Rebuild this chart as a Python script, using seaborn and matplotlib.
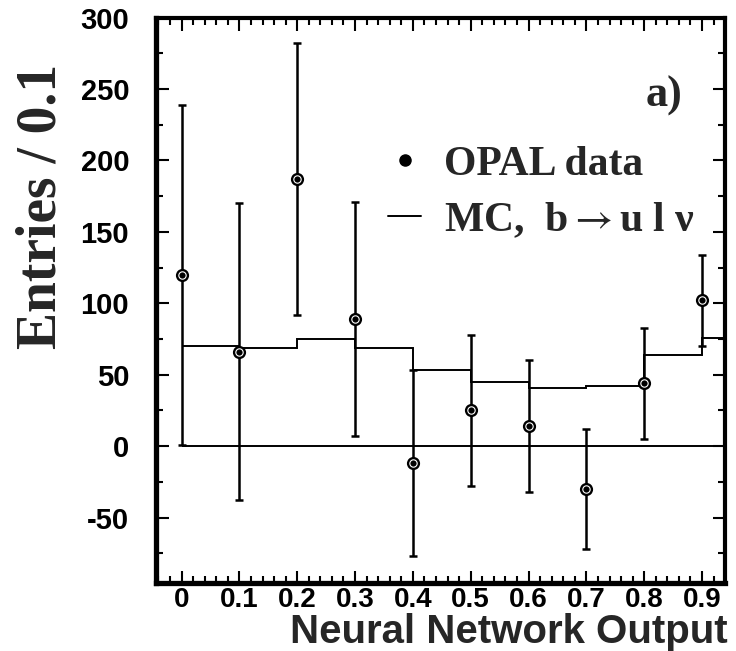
import numpy as np
import matplotlib
matplotlib.use("Agg")
import matplotlib.pyplot as plt
import seaborn as sns
import pandas as pd
from matplotlib.lines import Line2D
from matplotlib.ticker import MultipleLocator

# OPAL data points (neural network output bins, width 0.1)
nn_output = [0.0, 0.1, 0.2, 0.3, 0.4, 0.5, 0.6, 0.7, 0.8, 0.9]
entries = [120, 66, 187, 89, -12, 25, 14, -30, 44, 102]
errors = [119, 104, 95, 82, 65, 53, 46, 42, 39, 32]

# MC b -> u l nu histogram
mc_edges = [0.0, 0.1, 0.2, 0.3, 0.4, 0.5, 0.6, 0.7, 0.8, 0.9, 1.0]
mc_values = [70, 69, 75, 69, 53, 45, 41, 42, 64, 76]

x_ticks = [0, 0.1, 0.2, 0.3, 0.4, 0.5, 0.6, 0.7, 0.8, 0.9]
x_ticklabels = ["0", "0.1", "0.2", "0.3", "0.4", "0.5", "0.6", "0.7", "0.8", "0.9"]
y_ticks = [-50, 0, 50, 100, 150, 200, 250, 300]

sns.set_style("ticks")
plt.rcParams['font.family'] = ['Liberation Sans', 'DejaVu Sans']
plt.rcParams['axes.unicode_minus'] = False
plt.rcParams['mathtext.fontset'] = 'stix'
serif = ['Liberation Serif', 'DejaVu Serif']

df = pd.DataFrame({"x": nn_output, "y": entries, "err": errors})

fig = plt.figure(figsize=(7.36, 6.51), dpi=100)
ax = fig.add_axes([0.2113, 0.104, 0.774, 0.869])

# MC histogram and zero line
ax.stairs(mc_values, mc_edges, color="black", linewidth=1.4, baseline=None)
ax.hlines(0, mc_edges[0], mc_edges[-1], color="black", linewidth=1.4)

# data with error bars
ax.errorbar(df["x"], df["y"], yerr=df["err"], fmt="none", ecolor="black",
            elinewidth=1.8, capsize=3, capthick=1.8, zorder=3)
sns.scatterplot(data=df, x="x", y="y", ax=ax, color="black", s=90,
                edgecolor="black", linewidth=0, zorder=4, legend=False)
sns.scatterplot(data=df, x="x", y="y", ax=ax, color="black", s=28,
                edgecolor="white", linewidth=0.8, zorder=5, legend=False)

ax.set_xlim(-0.045, 0.94)
ax.set_ylim(-96, 300)
ax.set_xticks(x_ticks)
ax.set_xticklabels(x_ticklabels)
ax.set_yticks(y_ticks)
ax.xaxis.set_minor_locator(MultipleLocator(0.02))
ax.yaxis.set_minor_locator(MultipleLocator(25))

ax.tick_params(which="both", direction="in", top=True, right=True,
               colors="black", width=1.5)
ax.tick_params(which="major", length=9)
ax.tick_params(which="minor", length=5)
ax.tick_params(axis="x", which="major", pad=3, labelsize=20)
ax.tick_params(axis="y", which="major", pad=19, labelsize=21)
for lab in ax.get_xticklabels() + ax.get_yticklabels():
    lab.set_fontweight("bold")

for side, lw in [("left", 3.8), ("bottom", 3.8), ("top", 3.0), ("right", 3.0)]:
    ax.spines[side].set_visible(True)
    ax.spines[side].set_linewidth(lw)
    ax.spines[side].set_color("black")

ax.set_xlabel("Neural Network Output", fontsize=29, fontweight="bold", ha="right")
ax.xaxis.set_label_coords(1.005, -0.052)
ax.set_ylabel("Entries / 0.1", fontsize=40, fontweight="bold", family=serif)
ax.yaxis.set_label_coords(-0.155, 0.667)

ax.text(0.925, 0.862, "a)", transform=ax.transAxes, fontsize=32,
        fontweight="bold", family=serif, ha="right", va="center")

handles = [
    Line2D([], [], marker="o", linestyle="none", color="black", markersize=8),
    Line2D([], [], color="black", linewidth=1.4),
]
leg = ax.legend(handles, ["OPAL data", "MC,  b $\\!\\!\\rightarrow\\!\\!$ u l \u03bd"],
                loc="upper left", bbox_to_anchor=(0.408, 0.774), frameon=False,
                prop={"family": serif, "weight": "bold", "size": 30},
                handlelength=0.8, handletextpad=0.55, labelspacing=0.4,
                borderpad=0, borderaxespad=0)

fig.savefig("out.png", dpi=100)
